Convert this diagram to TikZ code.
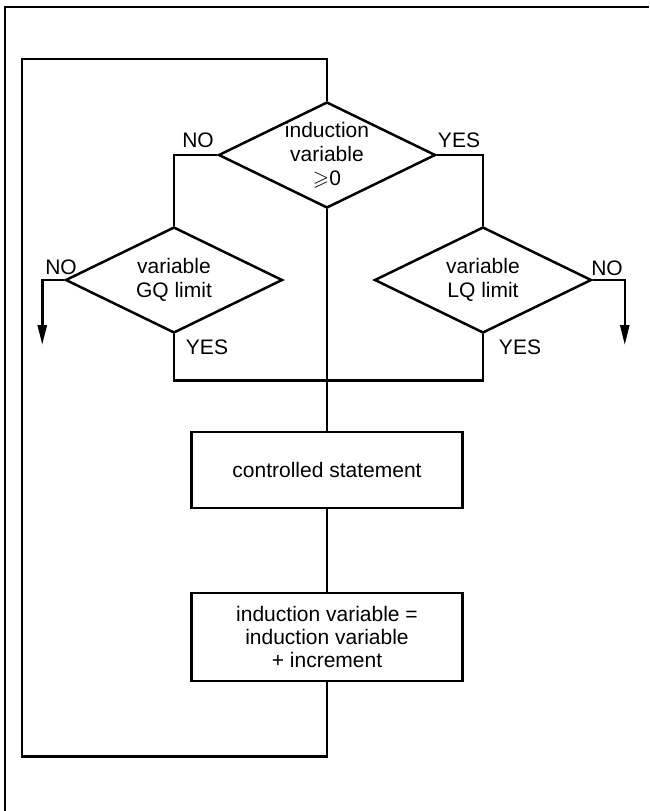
\documentclass[tikz,border=0pt]{standalone}
\usepackage{amssymb}
\usepackage{fontspec}
\setmainfont{Liberation Sans}
\usetikzlibrary{arrows.meta, shapes.geometric}

\begin{document}
\begin{tikzpicture}[
  x=1pt, y=-1pt,
  line width=2.5pt,
  test/.style={draw, diamond, aspect=2.04, minimum width=217pt,
    minimum height=106pt, inner sep=0pt},
  testtext/.style={align=center, font=\fontsize{21}{24}\selectfont},
  process/.style={draw, minimum width=271pt, align=center,
    font=\fontsize{21}{23}\selectfont},
  answer/.style={inner sep=0pt, font=\fontsize{21}{24}\selectfont},
  exit/.style={-{Triangle[length=20pt,width=9pt]}}
]
  \useasboundingbox (0,0) rectangle (649,811);

  % Page frame
  \draw (649,7) -- (5,7) -- (5,811);

  % Tests
  \node[test] (ind) at (327,155) {};
  \node[testtext] (indtext) at (ind) {induction\\variable\\$\geqslant$0};
  \node[test] (gq) at (174,280) {};
  \node[testtext] (gqtext) at (gq) {variable\\GQ limit};
  \node[test] (lq) at (483,280) {};
  \node[testtext] (lqtext) at (lq) {variable\\LQ limit};

  % Statements
  \node[process, minimum height=76pt] (body) at (327,470)
    {controlled statement};
  \node[process, minimum height=88pt] (incr) at (327,637)
    {induction variable =\\induction variable\\+ increment};

  % Answers
  \node[answer] (indno) at (198,140) {NO};
  \node[answer] (indyes) at (459,140) {YES};
  \node[answer] (gqno) at (61,267) {NO};
  \node[answer] (gqyes) at (207,347) {YES};
  \node[answer] (lqno) at (607,268) {NO};
  \node[answer] (lqyes) at (520,347) {YES};

  % Connections
  \coordinate (corner) at (22,59);
  \draw (ind.west) -| (gq.north);
  \draw (ind.east) -| (lq.north);
  \draw (gq.south) -- ++(0,46) -| (lq.south);
  \draw (ind.south) -- (body.north);
  \draw (body.south) -- (incr.north);
  \draw (incr.south) -- ++(0,74) -| (corner) -| (ind.north);

  % Exits
  \draw[exit] (gq.west) -- ++(-22,0) -- ++(0,65);
  \draw[exit] (lq.east) -- ++(32,0) -- ++(0,65);
\end{tikzpicture}
\end{document}
